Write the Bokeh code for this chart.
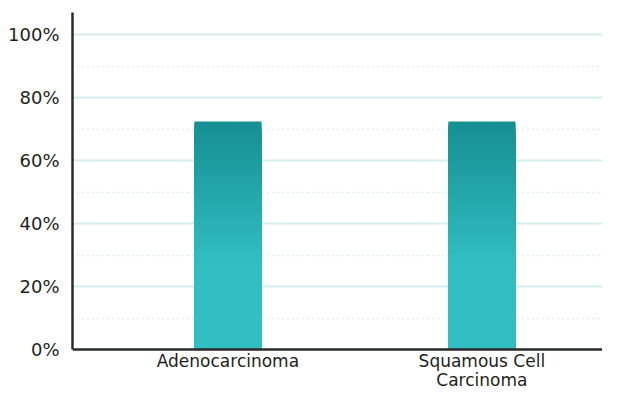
from bokeh.plotting import figure
from bokeh.models import Range1d, FixedTicker, PrintfTickFormatter, Span
from bokeh.core.properties import value
from bokeh.embed import file_html
from bokeh.resources import INLINE

categories = ["Adenocarcinoma", "Squamous Cell\nCarcinoma"]
values = [72.4, 72.4]
y_ticks = [0, 20, 40, 60, 80, 100]
y_minor = [10, 30, 50, 70, 90]

TOP = (22, 143, 147)
BOTTOM = (49, 191, 194)
FONT = "DejaVu Sans"
YMAX = 107
YMIN = -13.0
LABEL_Y = -0.6

p = figure(width=602, height=390, output_backend="svg", toolbar_location=None,
           x_range=Range1d(-0.612, 1.475), y_range=Range1d(YMIN, YMAX),
           min_border_left=72, min_border_right=0, min_border_top=12, min_border_bottom=0)
p.outline_line_color = None

# gradient bars: stacked bars of decreasing height (tallest first)
n = 90
bw = 0.264
for i, v in enumerate(values):
    tops, colors = [], []
    for k in range(n, 0, -1):
        t = v * k / n
        g = max(0.0, (k / n - 0.38) / 0.62)
        c = tuple(int(round(BOTTOM[j] + (TOP[j] - BOTTOM[j]) * g)) for j in range(3))
        tops.append(t); colors.append("#%02x%02x%02x" % c)
    p.vbar(x=[i] * n, width=bw, bottom=0, top=tops, fill_color=colors, line_color=None)

# x axis: line at 0 plus category labels drawn inside the frame
p.xaxis.visible = False
p.add_layout(Span(location=0, dimension="width", line_color="#2b2b2b", line_width=2.5))
p.text(x=list(range(len(categories))), y=[LABEL_Y] * len(categories), text=categories,
       text_align="center", text_baseline="top", text_font=value(FONT),
       text_font_size="17px", text_color="#231f20", text_line_height=0.95)

# y axis
yt = FixedTicker(ticks=y_ticks, minor_ticks=y_minor)
p.yaxis.ticker = yt
p.yaxis.bounds = (0, YMAX)
p.yaxis.formatter = PrintfTickFormatter(format="%d%%")
p.yaxis.axis_line_color = "#2b2b2b"
p.yaxis.axis_line_width = 2.5
p.yaxis.major_tick_line_color = None
p.yaxis.minor_tick_line_color = None
p.yaxis.major_tick_out = 0
p.yaxis.major_tick_in = 0
p.yaxis.minor_tick_out = 0
p.yaxis.minor_tick_in = 0
p.yaxis.major_label_text_font = FONT
p.yaxis.major_label_text_color = "#231f20"
p.yaxis.major_label_text_font_size = "18px"
p.yaxis.major_label_standoff = 13

p.xgrid.grid_line_color = None
p.ygrid.ticker = yt
p.ygrid.grid_line_color = "#d3ecee"
p.ygrid.grid_line_width = 2
p.ygrid.minor_grid_line_color = "#bfe1e4"
p.ygrid.minor_grid_line_dash = "1 4"
p.ygrid.minor_grid_line_width = 1.5

open("out.html", "w").write(file_html(p, INLINE))
